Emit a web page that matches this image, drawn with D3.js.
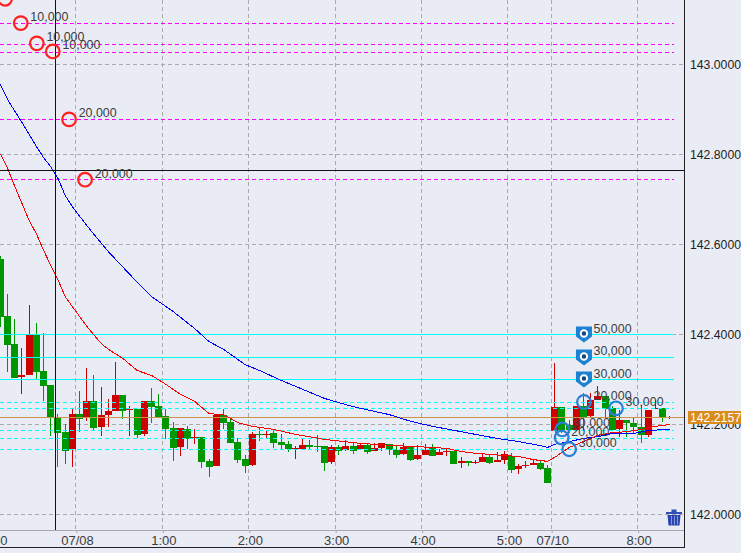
<!DOCTYPE html>
<html>
<head>
<meta charset="utf-8">
<script src="https://cdn.jsdelivr.net/npm/d3@7/dist/d3.min.js"></script>
<style>
html,body{margin:0;padding:0;background:#e9ecf5;overflow:hidden}
svg{display:block}
text{font-family:"Liberation Sans",Arial,sans-serif;font-size:13px}
</style>
</head>
<body>
<svg id="c" width="741" height="553"></svg>
<script>
const open=[142.567,142.440,142.378,142.304,142.309,142.398,142.318,142.287,142.216,142.182,142.144,142.222,142.213,142.251,142.193,142.220,142.229,142.264,142.231,142.233,142.178,142.251,142.240,142.218,142.191,142.149,142.189,142.169,142.171,142.118,142.107,142.220,142.204,142.160,142.122,142.109,142.178,142.176,142.180,142.160,142.156,142.144,142.144,142.153,142.151,142.151,142.116,142.149,142.142,142.151,142.144,142.153,142.140,142.147,142.156,142.142,142.133,142.149,142.122,142.131,142.149,142.131,142.138,142.140,142.113,142.118,142.113,142.116,142.127,142.116,142.120,142.129,142.100,142.107,142.109,142.113,142.102,142.184,142.238,142.198,142.187,142.240,142.218,142.253,142.262,142.236,142.189,142.209,142.202,142.193,142.176,142.233,142.236,142.2145];
const high=[142.573,142.489,142.433,142.369,142.464,142.424,142.402,142.287,142.222,142.200,142.233,142.273,142.324,142.309,142.282,142.256,142.338,142.264,142.240,142.233,142.251,142.280,142.267,142.233,142.204,142.191,142.196,142.189,142.171,142.122,142.220,142.233,142.213,142.169,142.131,142.182,142.191,142.184,142.187,142.178,142.162,142.151,142.167,142.164,142.176,142.151,142.153,142.153,142.164,142.158,142.158,142.158,142.158,142.158,142.156,142.153,142.158,142.149,142.153,142.156,142.156,142.144,142.144,142.140,142.127,142.118,142.120,142.136,142.133,142.138,142.140,142.136,142.111,142.118,142.122,142.120,142.109,142.336,142.238,142.209,142.240,142.269,142.269,142.284,142.262,142.240,142.231,142.209,142.216,142.242,142.231,142.253,142.236,142.218];
const low=[142.416,142.316,142.302,142.267,142.309,142.300,142.251,142.173,142.104,142.111,142.104,142.182,142.207,142.187,142.173,142.193,142.229,142.211,142.173,142.169,142.173,142.202,142.216,142.167,142.118,142.129,142.144,142.156,142.102,142.082,142.107,142.189,142.158,142.113,142.091,142.107,142.162,142.169,142.147,142.142,142.138,142.122,142.142,142.142,142.138,142.096,142.111,142.131,142.140,142.133,142.142,142.133,142.140,142.140,142.131,142.124,142.131,142.118,142.120,142.131,142.129,142.131,142.129,142.111,142.102,142.107,142.111,142.116,142.111,142.116,142.111,142.091,142.089,142.102,142.109,142.098,142.069,142.184,142.180,142.180,142.187,142.187,142.213,142.253,142.216,142.187,142.171,142.171,142.180,142.158,142.171,142.233,142.204,142.211];
const close=[142.438,142.376,142.302,142.309,142.398,142.316,142.284,142.213,142.180,142.140,142.222,142.211,142.251,142.191,142.220,142.229,142.264,142.229,142.233,142.176,142.251,142.238,142.216,142.189,142.147,142.191,142.167,142.171,142.116,142.104,142.220,142.202,142.158,142.120,142.107,142.178,142.176,142.178,142.158,142.153,142.144,142.147,142.153,142.149,142.149,142.113,142.149,142.140,142.151,142.140,142.153,142.138,142.147,142.158,142.142,142.131,142.149,142.120,142.131,142.142,142.129,142.138,142.140,142.111,142.118,142.113,142.116,142.127,142.113,142.120,142.133,142.098,142.107,142.109,142.113,142.100,142.069,142.238,142.187,142.187,142.240,142.216,142.253,142.262,142.233,142.187,142.209,142.202,142.193,142.176,142.231,142.236,142.216,142.2157];

const blueAt=[0,1,3,5,6,7,8,9,10,12,15,18,21,24,27,29,31,34,36,39,42,45,48,50,54,57,60,63,66,69,72,75,76,77,79,81,83,85,88,90,93];
const blueValues=[142.956,142.922,142.871,142.818,142.793,142.773,142.747,142.709,142.684,142.642,142.584,142.533,142.484,142.451,142.413,142.384,142.367,142.333,142.320,142.298,142.278,142.258,142.244,142.236,142.222,142.207,142.196,142.187,142.178,142.169,142.162,142.153,142.149,142.156,142.162,142.169,142.173,142.180,142.180,142.187,142.189];
const redAt=[0,1,2,3,4,5,6,7,8,9,10,12,14,15,17,19,21,23,25,27,29,31,33,35,38,41,45,50,55,60,62,64,66,70,72,74,76,77,79,81,83,85,87,89,91,93];
const redValues=[142.802,142.769,142.729,142.691,142.653,142.624,142.587,142.553,142.522,142.484,142.462,142.418,142.380,142.367,142.347,142.320,142.309,142.289,142.267,142.251,142.224,142.222,142.204,142.196,142.189,142.178,142.167,142.158,142.153,142.149,142.147,142.140,142.136,142.131,142.129,142.122,142.118,142.127,142.149,142.162,142.176,142.182,142.184,142.189,142.196,142.200];

const priceTicks=[142.0,142.2,142.4,142.6,142.8,143.0];
const timeTickAt=[-1.5,10.5,22.5,34.5,46.5,58.5,70.5,76.5,88.5];
const timeLabels=["23:00","07/08","1:00","2:00","3:00","4:00","5:00","07/10","8:00"];

const magentaLevels=[143.091,143.044,143.027,142.878,142.744];
const cyanSolid=[142.400,142.349,142.300];
const cyanDashed=[142.249,142.236,142.187,142.169,142.144];
const currentPrice=142.2157;
const crossAt=7.6, crossPrice=142.764;

const redMarkAt=[0.65,2.83,5.06,7.28,9.54,11.76];
const redMarkPrice=[143.146,143.092,143.047,143.029,142.878,142.744];
const redMarkText=["10,000","10,000","10,000","10,000","20,000","20,000"];
const blueMarkAt=[78.04,77.96,79,81.05,85.5];
const blueMarkPrice=[142.189,142.171,142.145,142.250,142.236];
const blueMarkText=["30,000","20,000","30,000","20,000","30,000"];
const pinAt=[81.05,81.05,81.05];
const pinPrice=[142.400,142.349,142.300];
const pinText=["50,000","30,000","30,000"];

const W=741,H=553,plotR=684,plotB=530,axisB=547;
const x=d3.scaleLinear().domain([0,93]).range([0.39,669.99]);
const y=d3.scaleLinear().domain([142,143]).range([514.5,64.5]);
const svg=d3.select("#c");
const RED="#cc0000",GREEN="#009600",GRID="#a9a9a9",TXT="#3c3c3c";
const snap=v=>Math.floor(v)+0.5;

svg.append("rect").attr("width",W).attr("height",H).attr("fill","#e9ecf5");
svg.append("defs").append("clipPath").attr("id","plot").append("rect").attr("width",plotR).attr("height",plotB);
const g=svg.append("g").attr("clip-path","url(#plot)").style("shape-rendering","crispEdges");

// grid
g.selectAll(".hg").data(priceTicks).join("line").attr("x1",0).attr("x2",plotR)
 .attr("y1",d=>snap(y(d))).attr("y2",d=>snap(y(d))).attr("stroke",GRID).attr("stroke-dasharray","4,3");
g.selectAll(".vg").data(timeTickAt).join("line").attr("y1",0).attr("y2",plotB)
 .attr("x1",d=>snap(x(d))).attr("x2",d=>snap(x(d))).attr("stroke",GRID).attr("stroke-dasharray","4,3");

// candles
const idx=d3.range(open.length);
g.selectAll(".wick").data(idx).join("line")
 .attr("x1",i=>snap(x(i))).attr("x2",i=>snap(x(i)))
 .attr("y1",i=>Math.floor(y(high[i]))).attr("y2",i=>Math.floor(y(low[i])))
 .attr("stroke",i=>close[i]>=open[i]?RED:GREEN);
g.selectAll(".body").data(idx).join("rect")
 .attr("x",i=>Math.floor(x(i))-3).attr("width",7)
 .attr("y",i=>Math.floor(y(Math.max(open[i],close[i]))))
 .attr("height",i=>Math.max(1,Math.floor(y(Math.min(open[i],close[i])))-Math.floor(y(Math.max(open[i],close[i])))))
 .attr("fill",i=>close[i]>=open[i]?RED:GREEN);

// price levels
const level=(levels,color,dash)=>g.append("g").selectAll("line").data(levels).join("line")
 .attr("x1",0).attr("x2",674).attr("y1",d=>snap(y(d))).attr("y2",d=>snap(y(d)))
 .attr("stroke",color).attr("stroke-dasharray",dash);
level(magentaLevels,"#ff00ff","4,3");
level(cyanSolid,"#00ffff",null);
level(cyanDashed,"#00ffff","4,3");
g.append("line").attr("x1",0).attr("x2",plotR).attr("y1",snap(y(currentPrice))).attr("y2",snap(y(currentPrice))).attr("stroke","#c8934a");

// moving averages
const ln=(at,vals)=>d3.line().x((d,i)=>x(at[i])).y(d=>y(d))(vals);
g.append("path").attr("d",ln(blueAt,blueValues)).attr("fill","none").attr("stroke","#0000ff");
g.append("path").attr("d",ln(redAt,redValues)).attr("fill","none").attr("stroke","#ff0000");

// crosshair
g.append("line").attr("x1",snap(x(crossAt))).attr("x2",snap(x(crossAt))).attr("y1",0).attr("y2",plotB).attr("stroke","#111");
g.append("line").attr("x1",0).attr("x2",plotR).attr("y1",snap(y(crossPrice))).attr("y2",snap(y(crossPrice))).attr("stroke","#111");

// markers
const m=svg.append("g").attr("clip-path","url(#plot)");
const marks=(at,price,labels,color)=>{
  m.append("g").selectAll("circle").data(at).join("circle")
   .attr("cx",d=>x(d)).attr("cy",(d,i)=>y(price[i])).attr("r",6.8)
   .attr("fill","none").attr("stroke",color).attr("stroke-width",2.2);
  m.append("g").selectAll("text").data(at).join("text")
   .attr("x",d=>x(d)+9.6).attr("y",(d,i)=>y(price[i])-2).attr("fill",TXT)
   .attr("textLength",38).attr("lengthAdjust","spacingAndGlyphs").text((d,i)=>labels[i]);
};
marks(redMarkAt,redMarkPrice,redMarkText,"#ff2020");
marks(blueMarkAt,blueMarkPrice,blueMarkText,"#2b7fd4");

const pins=m.append("g").selectAll("g").data(pinAt).join("g")
 .attr("transform",(d,i)=>`translate(${x(d)},${y(pinPrice[i])})`);
pins.append("path").attr("d","M-8,-8L8,-8L8,2L0,8L-8,2Z").attr("fill","#1e80d0");
pins.append("circle").attr("cy",-1).attr("r",3.2).attr("fill","#12457a").attr("stroke","#fff").attr("stroke-width",2);
pins.append("text").attr("x",9.6).attr("y",-2).attr("fill",TXT)
 .attr("textLength",38).attr("lengthAdjust","spacingAndGlyphs").text((d,i)=>pinText[i]);

// axes
const yAxis=d3.axisRight(y).tickValues(priceTicks).tickSize(0).tickPadding(6).tickFormat(d3.format(".4f"));
const ya=svg.append("g").attr("transform",`translate(${plotR},0)`).call(yAxis);
ya.select(".domain").remove();
ya.selectAll("text").attr("fill","#222").attr("textLength",51).attr("lengthAdjust","spacingAndGlyphs")
 .style("font-family","Liberation Sans").style("font-size","13px").attr("dy","0.28em");

const xAxis=d3.axisBottom(x).tickValues(timeTickAt).tickSize(3).tickPadding(3).tickFormat((d,i)=>timeLabels[i]);
const xa=svg.append("g").attr("transform",`translate(0.5,${plotB})`).call(xAxis);
xa.select(".domain").remove();
xa.selectAll("line").attr("stroke",GRID);
xa.selectAll("text").attr("dx",0.5).attr("fill",TXT).style("font-family","Liberation Sans").style("font-size","13px");

svg.append("line").attr("x1",0).attr("x2",plotR).attr("y1",plotB+0.5).attr("y2",plotB+0.5).attr("stroke",GRID);
svg.append("line").attr("x1",0).attr("x2",plotR+1).attr("y1",axisB+0.5).attr("y2",axisB+0.5).attr("stroke","#222");
svg.append("line").attr("x1",plotR+0.5).attr("x2",plotR+0.5).attr("y1",0).attr("y2",axisB+1).attr("stroke","#222");

// current price label
svg.append("rect").attr("x",688).attr("y",snap(y(currentPrice))-6.5).attr("width",53).attr("height",13).attr("fill","#d98c1c");
svg.append("text").attr("x",690).attr("y",y(currentPrice)+4.5).attr("fill","#fff")
 .attr("textLength",51).attr("lengthAdjust","spacingAndGlyphs").text(d3.format(".4f")(currentPrice));

// trash icon
const t=svg.append("g").attr("transform","translate(674,517)");
t.append("path").attr("d","M-8,-5L-2.5,-5L-2.5,-7.5L2.5,-7.5L2.5,-5L8,-5L8,-3L-8,-3Z").attr("fill","#3350b8");
t.append("path").attr("d","M-6.5,-2L6.5,-2L5.5,8.5L-5.5,8.5Z").attr("fill","#2a44b0");
t.append("path").attr("d","M-2.5,-1V7.5M0.5,-1V7.5M3.5,-1V7.5").attr("stroke","#9fb0ea").attr("stroke-width",0.8);
</script>
</body>
</html>
